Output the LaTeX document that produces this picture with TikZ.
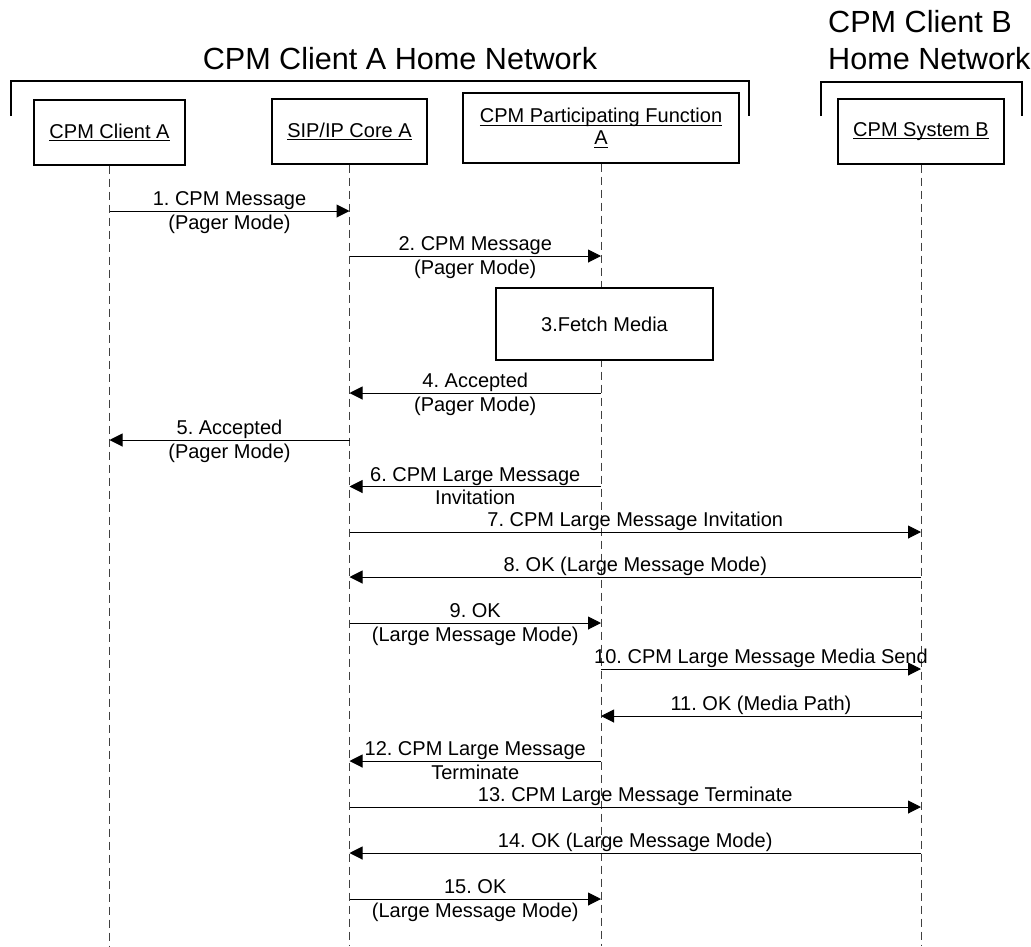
\documentclass[tikz,border=0pt]{standalone}
\usepackage{fontspec}
\setmainfont{Liberation Sans}
\usetikzlibrary{arrows.meta,calc}
\frenchspacing

\newcommand{\ulin}[1]{\setbox0\hbox{#1}\rlap{\rule[-2.6pt]{\wd0}{0.9pt}}\box0}

% #1 from node, #2 to node, #3 y, #4 name, #5 first line, #6 second line
\newcommand{\msgline}[6]{%
  \coordinate (#4s) at (#1 |- 0,#3);
  \coordinate (#4e) at (#2 |- 0,#3);
  \draw[msg] (#4s) -- (#4e);
  \node[lbl, anchor=base] (#4a) at ($(#4s)!0.5!(#4e)+(0,-5.5)$) {#5};
  \node[lbl, anchor=base] (#4b) at ($(#4s)!0.5!(#4e)+(0,18)$) {#6};
}

\tikzset{
  box/.style={draw=black, line width=1.4pt, fill=white, inner sep=0pt,
    font=\fontsize{20}{22}\selectfont\frenchspacing, align=center},
  lifeline/.style={draw=black!75, line width=1pt, dash pattern=on 8pt off 5pt},
  msg/.style={draw=black, line width=1pt, -{Triangle[length=13pt,width=13pt]}},
  lbl/.style={inner sep=0pt, font=\fontsize{20}{24}\selectfont\frenchspacing},
  bracket/.style={draw=black, line width=2pt},
  title/.style={inner sep=0pt, font=\fontsize{30.6}{37}\selectfont}
}

\begin{document}
\begin{tikzpicture}[x=1pt, y=-1pt]
\useasboundingbox (0,0) rectangle (1031,946);
\coordinate (bot) at (0,946);

% titles
\node[title, anchor=base] (titleA) at (400,69) {CPM Client A Home Network};
\node[title, anchor=base west] (titleB1) at (828,32) {CPM Client B};
\node[title, anchor=base west] (titleB2) at (828,69) {Home Network};

% brackets
\draw[bracket] (11,116) -- (11,81) -- (749,81) -- (749,116);
\draw[bracket] (821,116) -- (821,82) -- (1022,82) -- (1022,116);

% participant boxes
\node[box, minimum width=151pt, minimum height=65pt] (ca) at (109.5,132.5) {\ulin{CPM Client A}};
\node[box, minimum width=155pt, minimum height=65pt] (sip) at (349.5,131.5) {\ulin{SIP/IP Core A}};
\node[box, minimum width=276pt, minimum height=70pt] (pf) at (601,128) {\ulin{CPM Participating Function}\\\ulin{A}};
\node[box, minimum width=166pt, minimum height=65pt] (sb) at (921,131.5) {\ulin{CPM System B}};

% lifelines
\draw[lifeline] (ca) -- (ca |- bot);
\draw[lifeline] (sip) -- (sip |- bot);
\draw[lifeline] (pf) -- (pf |- bot);
\draw[lifeline] (sb) -- (sb |- bot);

% fetch media
\node[box, minimum width=217pt, minimum height=72pt] (fetch) at (604.5,324) {3.Fetch Media};

% messages
\msgline{ca}{sip}{211}{m1}{1. CPM Message}{(Pager Mode)}
\msgline{sip}{pf}{256}{m2}{2. CPM Message}{(Pager Mode)}
\msgline{pf}{sip}{393}{m4}{4. Accepted}{(Pager Mode)}
\msgline{sip}{ca}{440}{m5}{5. Accepted}{(Pager Mode)}
\msgline{pf}{sip}{486.5}{m6}{6. CPM Large Message}{Invitation}
\msgline{sip}{sb}{532}{m7}{7. CPM Large Message Invitation}{}
\msgline{sb}{sip}{577}{m8}{8. OK (Large Message Mode)}{}
\msgline{sip}{pf}{623}{m9}{9. OK}{(Large Message Mode)}
\msgline{pf}{sb}{669}{m10}{10. CPM Large Message Media Send}{}
\msgline{sb}{pf}{716}{m11}{11. OK (Media Path)}{}
\msgline{pf}{sip}{761}{m12}{12. CPM Large Message}{Terminate}
\msgline{sip}{sb}{807}{m13}{13. CPM Large Message Terminate}{}
\msgline{sb}{sip}{853}{m14}{14. OK (Large Message Mode)}{}
\msgline{sip}{pf}{899}{m15}{15. OK}{(Large Message Mode)}
\end{tikzpicture}
\end{document}
